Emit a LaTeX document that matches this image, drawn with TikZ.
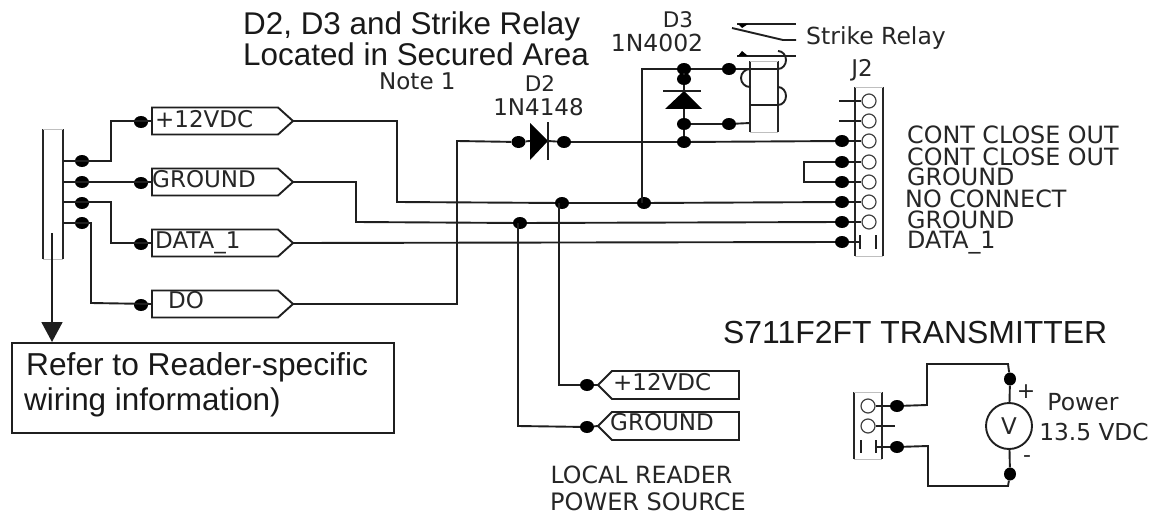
\documentclass[tikz,border=0pt]{standalone}
\usepackage{fontspec}
\setmainfont{DejaVu Sans}
\newfontfamily\arialf{Liberation Sans}
\usetikzlibrary{shapes.geometric,arrows.meta}
\newcommand{\fsz}[1]{\fontsize{#1}{#1}\selectfont}
\tikzset{
  x=1pt,y=-1pt,
  wire/.style={line width=1.9pt,draw=black!88,line join=miter},
  jdot/.style={ellipse,fill=black,inner sep=0pt,minimum width=14pt,minimum height=12pt},
  tag/.style={font=\fsz{23},text=black!85,inner sep=0pt,anchor=base west},
  lbl/.style={font=\fsz{23},text=black!85,inner sep=0pt,anchor=base},
  lblw/.style={font=\fsz{23},text=black!85,inner sep=0pt,anchor=base west},
  big/.style={font=\arialf\fsz{31.4},text=black!90,inner sep=0pt,anchor=base west},
  pin/.style={circle,draw=black!75,line width=1.2pt,minimum size=14pt,inner sep=0pt},
  rail/.style={line width=1.9pt,draw=black!85},
  faint/.style={line width=.7pt,draw=black!25},
  sigbox/.style={draw=black!88,line width=1.9pt}
}
\newcommand{\outtag}[2]{%
  \draw[sigbox] (152,#2-13.5) -- (278,#2-13.5) -- (293,#2) coordinate (#1) -- (278,#2+13.5) -- (152,#2+13.5) -- cycle;
  \coordinate (#1w) at (152,#2);}
\newcommand{\intag}[2]{%
  \draw[sigbox] (739,#2-14) -- (612,#2-14) -- (598,#2) coordinate (#1) -- (612,#2+14) -- (739,#2+14) -- cycle;}
\begin{document}
\begin{tikzpicture}
\useasboundingbox (0,0) rectangle (1155,516);
\fill[white] (0,0) rectangle (1155,516);

% titles
\node[big] (t1) at (243,35) {D2, D3 and Strike Relay};
\node[big] (t2) at (243,66) {Located in Secured Area};
\node[lblw] (n1) at (379,90) {Note 1};
\node[lbl,font=\fsz{21.5}] (d2a) at (540,92) {D2};
\node[lbl] (d2b) at (538.5,115) {1N4148};
\node[lbl,font=\fsz{21.5}] (d3a) at (678,28) {D3};
\node[lbl,font=\fsz{23.5}] (d3b) at (657,52) {1N4002};
\node[lblw,font=\fsz{23.5}] (sr) at (806,45) {Strike Relay};
\node[lbl] (j2) at (862,77) {J2};
\foreach \n/\x/\y/\t in {a/907/143/CONT CLOSE OUT,b/907/165/CONT CLOSE OUT,c/907/185/GROUND,d/905/207/NO CONNECT,e/907/228/GROUND,f/907/248/DATA\_1}
  \node[lblw,font=\fsz{23.8}] (r\n) at (\x,\y) {\t};
\node[big,font=\arialf\fsz{31.9}] (s711) at (723,343) {S711F2FT TRANSMITTER};

% left connector
\draw[rail] (43,129) -- (43,259) (63,129) -- (63,259);
\draw[faint] (43,129) -- (63,129) (43,259) -- (63,259);
\coordinate (L1) at (63,161); \coordinate (L2) at (63,182);
\coordinate (L3) at (63,202); \coordinate (L4) at (63,223);

% tags
\outtag{pa}{121} \outtag{pb}{182} \outtag{pc}{243} \outtag{pd}{304}
\node[tag] (tpa) at (155,127) {+12VDC};
\node[tag] (tpb) at (152,187) {GROUND};
\node[tag] (tpc) at (155,248) {DATA\_1};
\node[tag] (tpd) at (168,308) {DO};

\intag{qa}{385} \intag{qb}{426}
\node[tag] (tqa) at (613,390) {+12VDC};
\node[tag] (tqb) at (610,430) {GROUND};
\node[lbl,font=\fsz{23.7}] (lr1) at (641.5,483) {LOCAL READER};
\node[lbl,font=\fsz{24}] (lr2) at (648,510) {POWER SOURCE};

% reader arrow and box
\node[draw=black!88,line width=1.9pt,minimum width=382pt,minimum height=90pt,anchor=north west,inner sep=0pt] (refbox) at (11,342) {};
\coordinate (arA) at (52,233);
\draw[wire,-{Triangle[length=20pt,width=21pt]}] (arA) -- (arA |- refbox.north);
\node[big,font=\arialf\fsz{31.7}] (rb1) at (26,375) {Refer to Reader-specific};
\node[big] (rb2) at (24,410) {wiring information)};

% left dots
\foreach \n/\x/\y in {la/82/161,lb/82/182,lc/82/203,ld/82/223,ta/141/122,tb/141/183,tc/141/244,td/141/305}
  \node[jdot] (\n) at (\x,\y) {};
\draw[wire] (L1) -- (111,161) -- (111,121) -- (paw);
\draw[wire] (L2) -- (pbw);
\draw[wire] (L3) -- (111,202) -- (111,243) -- (pcw);
\draw[wire] (L4) -- (91,223) -- (91,303) -- (pdw);

% J2
\draw[rail] (855,87) -- (855,256) (883,87) -- (883,256);
\draw[faint] (855,87) -- (883,87) (855,256) -- (883,256);
\foreach \n/\y in {a/101,b/121,c/141,d/162,e/182,f/202,g/222}
  \node[pin] (j\n) at (869,\y) {};
\draw[wire] (860,235) -- (860,249);
\draw[wire] (876,235) -- (876,249);
\coordinate (jh) at (860,242);
\foreach \n/\y in {c/141,d/162,e/182,f/202,g/222,h/242}
  \node[jdot] (k\n) at (842,\y) {};
\coordinate (sa) at (839,101); \coordinate (sb) at (839,121);
\draw[wire] (sa) -- (ja); \draw[wire] (sb) -- (jb);
\draw[wire] (kc) -- (jc); \draw[wire] (kd) -- (jd); \draw[wire] (ke) -- (je);
\draw[wire] (kf) -- (jf); \draw[wire] (kg) -- (jg); \draw[wire] (kh) -- (jh);
\draw[wire] (kd) -- (804,162) -- (804,182) -- (ke);

% bus junctions
\node[jdot] (ba) at (562,203) {};
\node[jdot] (bb) at (644,203) {};
\node[jdot] (bc) at (520,223) {};
\draw[wire] (pa) -- (397,121) -- (397,202) -- (ba) -- (bb) -- (kf);
\draw[wire] (pb) -- (356,182) -- (356,222) -- (bc) -- (kg);
\draw[wire] (pc) -- (kh);
\node[jdot] (da) at (518.5,142) {};
\node[jdot] (db) at (564,142) {};
\draw[wire] (pd) -- (457,304) -- (457,141) -- (da);

% D2
\fill[black] (530,123) -- (548,141) -- (530,160) -- cycle;
\draw[wire] (548,122) -- (548,160);
\draw[wire] (da) -- (530,141);
\draw[wire] (548,141) -- (db);
\node[jdot] (jn) at (684,142) {};
\draw[wire] (db) -- (jn) -- (kc);

% local power
\node[jdot] (ra) at (587,385) {};
\node[jdot] (rb) at (587,427) {};
\draw[wire] (559,203) -- (559,385) -- (ra) -- (qa);
\draw[wire] (518,223) -- (518,426) -- (rb) -- (qb);

% D3 and relay
\node[jdot] (ea) at (684,69) {};
\node[jdot] (eb) at (684,79) {};
\node[jdot] (ec) at (684,124) {};
\node[jdot] (ed) at (729,69) {};
\node[jdot] (ee) at (729,124) {};
\draw[wire] (642,203) -- (642,69) -- (ea) -- (ed) -- (778,69);
\draw[wire] (ea) -- (eb) -- (684,91);
\fill[black] (684,91) -- (702,109) -- (665,109) -- cycle;
\draw[wire] (663,91) -- (701,91);
\draw[wire] (684,109) -- (ec) -- (jn);
\draw[wire] (ec) -- (ee) -- (750,123);
% relay coil
\draw[rail] (750,61) -- (750,132) (778,61) -- (778,132);
\draw[faint] (750,61) -- (778,61) (750,132) -- (778,132);
\draw[wire] (778,69) arc[start angle=90,end angle=-90,x radius=8,y radius=9];
\draw[wire] (750,87) arc[start angle=90,end angle=270,x radius=9,y radius=9];
\draw[wire] (750,105) -- (778,105);
\draw[wire] (778,105) arc[start angle=90,end angle=-90,x radius=8,y radius=9];
% relay contacts
\draw[wire] (737,24) -- (796,24);
\draw[wire] (732,28) -- (783,40) -- (796,40);
\draw[wire] (737,56) -- (796,56);
\fill[black] (738,24) -- (748,24) -- (742,28) -- cycle;
\fill[black] (738,56) -- (748,56) -- (742,51) -- cycle;

% transmitter
\draw[rail] (854,392) -- (854,459) (882,392) -- (882,459);
\draw[faint] (854,392) -- (882,392) (854,459) -- (882,459);
\node[pin] (xa) at (868,406) {};
\node[pin] (xb) at (868,426) {};
\draw[wire] (861,440) -- (861,453);
\draw[wire] (876,440) -- (876,453);
\coordinate (xc) at (876,447);
\coordinate (xs) at (895,426);
\node[jdot] (ya) at (897,406) {};
\node[jdot] (yb) at (897,447) {};
\draw[wire] (xb) -- (xs);
\draw[wire] (xa) -- (ya);
\draw[wire] (xc) -- (yb);
\node[circle,draw=black!88,line width=1.9pt,minimum size=46pt,inner sep=0pt,font=\fsz{23},text=black!85] (vm) at (1009,426) {V};
\node[jdot,minimum width=12pt,minimum height=13pt] (za) at (1010,379) {};
\node[jdot,minimum width=12pt,minimum height=13pt] (zb) at (1010,474) {};
\draw[wire] (ya) -- (927,405) -- (927,364) -- (1008,364) -- (za) -- (vm);
\draw[wire] (yb) -- (928,446) -- (928,486) -- (1008,486) -- (zb) -- (vm);
\node[lbl,font=\fsz{22},anchor=center] (plus) at (1026,392) {+};
\node[lbl,font=\fsz{22},anchor=center] (minus) at (1027,459) {-};
\node[lbl,font=\fsz{23.5}] (pw) at (1083,410) {Power};
\node[lbl,font=\fsz{23.3}] (vv) at (1094,440) {13.5 VDC};
\end{tikzpicture}
\end{document}
